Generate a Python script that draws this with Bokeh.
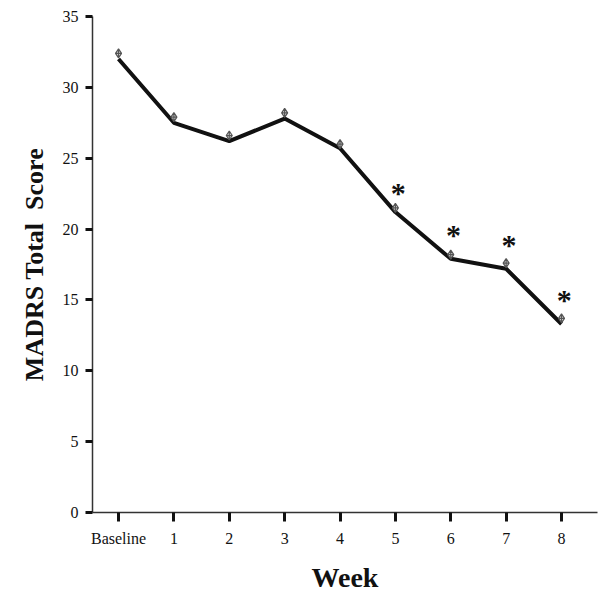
from bokeh.plotting import figure
from bokeh.models import FixedTicker
from bokeh.core.properties import value
from bokeh.embed import file_html
from bokeh.resources import INLINE

weeks = ["Baseline", "1", "2", "3", "4", "5", "6", "7", "8"]
marker_scores = [32.4, 27.9, 26.6, 28.2, 26.0, 21.5, 18.2, 17.6, 13.7]
line_scores = [32.0, 27.5, 26.2, 27.8, 25.7, 21.2, 17.9, 17.2, 13.3]
sig_weeks = ["5", "6", "7", "8"]
sig_heights = [22.6, 19.6, 18.9, 15.0]

xs = list(range(len(weeks)))
sig_x = [weeks.index(w) + 0.05 for w in sig_weeks]

p = figure(width=598, height=599, output_backend="svg", toolbar_location=None,
           x_range=(-0.47, 8.65), y_range=(0, 35),
           min_border_left=92, min_border_right=1, min_border_top=16, min_border_bottom=87)
p.outline_line_color = None
p.xgrid.visible = False
p.ygrid.visible = False
p.background_fill_color = "white"
p.border_fill_color = "white"

p.line(xs, line_scores, line_width=4, color="#111111")
p.scatter(xs, marker_scores, marker="diamond_cross", size=9, line_color="#555555",
          fill_color="#dddddd", line_width=1.2)
p.text(sig_x, sig_heights, text=["*"] * len(sig_x), text_font=value("Liberation Serif"),
       text_font_size="30px", text_font_style="bold", text_align="center",
       text_baseline="middle", text_color="#111111")

ax = p.xaxis[0]
ax.ticker = FixedTicker(ticks=xs)
ax.major_label_overrides = {i: w for i, w in enumerate(weeks)}
ax.axis_label = "Week"
ax.axis_label_text_font = "Liberation Serif"
ax.axis_label_text_font_size = "28px"
ax.axis_label_text_font_style = "bold"
ax.axis_label_text_color = "#111111"
ax.axis_label_standoff = 12
ax.major_label_text_font = "Liberation Serif"
ax.major_label_text_font_size = "16px"
ax.major_label_text_color = "#111111"
ax.major_label_standoff = 8
ax.minor_tick_line_color = None
ax.major_tick_in = 0
ax.major_tick_out = 9
ax.major_tick_line_width = 3
ax.major_tick_line_color = "#111111"
ax.axis_line_width = 1.5
ax.axis_line_color = "#333333"

ay = p.yaxis[0]
ay.ticker = FixedTicker(ticks=[0, 5, 10, 15, 20, 25, 30, 35])
ay.axis_label = "MADRS Total\u00a0 Score"
ay.axis_label_text_font = "Liberation Serif"
ay.axis_label_text_font_size = "26px"
ay.axis_label_text_font_style = "bold"
ay.axis_label_text_color = "#111111"
ay.axis_label_standoff = 11
ay.major_label_text_font = "Liberation Serif"
ay.major_label_text_font_size = "16px"
ay.major_label_text_color = "#111111"
ay.major_label_standoff = 7
ay.minor_tick_line_color = None
ay.major_tick_in = 0
ay.major_tick_out = 7
ay.major_tick_line_width = 3
ay.major_tick_line_color = "#111111"
ay.axis_line_width = 1.5
ay.axis_line_color = "#333333"

open("out.html", "w").write(file_html(p, INLINE))
